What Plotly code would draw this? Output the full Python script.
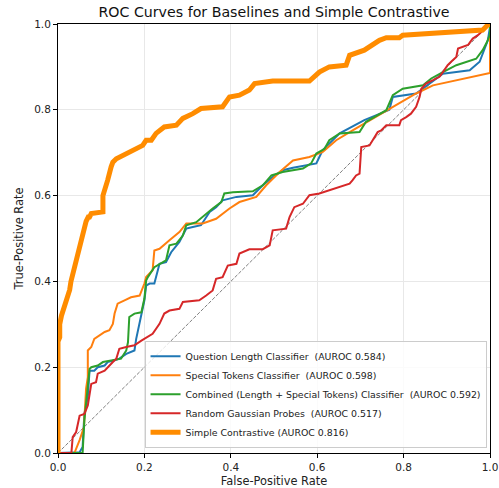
import plotly.graph_objects as go

# ---------------- data ----------------
sc_fpr = [0.0, 0.0, 0.0, 0.004, 0.004, 0.008, 0.015, 0.02, 0.027, 0.03, 0.035, 0.04, 0.045, 0.05, 0.055, 0.06, 0.065, 0.07, 0.073,
          0.077, 0.104, 0.104, 0.108, 0.115, 0.123, 0.127, 0.135, 0.15, 0.169, 0.184, 0.196, 0.204, 0.216, 0.227, 0.246,
          0.274, 0.289, 0.312, 0.331, 0.381, 0.397, 0.42, 0.443, 0.455, 0.497, 0.559, 0.582, 0.605, 0.628, 0.667, 0.675,
          0.709, 0.729, 0.744, 0.76, 0.79, 0.798, 0.86, 0.952, 0.983, 0.994, 1.0]
sc_tpr = [0.0, 0.13, 0.26, 0.27, 0.30, 0.32, 0.34, 0.36, 0.38, 0.40, 0.42, 0.45, 0.47, 0.49, 0.51, 0.53, 0.54, 0.55, 0.55,
          0.558, 0.562, 0.60, 0.617, 0.636, 0.667, 0.678, 0.686, 0.694, 0.702, 0.71, 0.717, 0.729, 0.729, 0.745, 0.76,
          0.764, 0.78, 0.791, 0.803, 0.807, 0.83, 0.834, 0.846, 0.861, 0.867, 0.867, 0.867, 0.888, 0.9, 0.904, 0.927,
          0.939, 0.951, 0.962, 0.968, 0.968, 0.974, 0.978, 0.982, 0.986, 0.997, 1.0]

st_fpr = [0.0, 0.038, 0.05, 0.06, 0.065, 0.069, 0.069, 0.077, 0.084, 0.096, 0.108, 0.119, 0.127, 0.131, 0.138, 0.154, 0.169,
          0.189, 0.2, 0.204, 0.219, 0.223, 0.235, 0.258, 0.281, 0.297, 0.335, 0.366, 0.397, 0.42, 0.459, 0.482, 0.513,
          0.544, 0.582, 0.613, 0.644, 0.682, 0.729, 0.775, 0.829, 0.868, 0.906, 0.995, 1.0, 1.0]
st_tpr = [0.0, 0.0, 0.03, 0.06, 0.15, 0.177, 0.239, 0.247, 0.266, 0.274, 0.282, 0.286, 0.301, 0.325, 0.348, 0.356, 0.363,
          0.367, 0.395, 0.41, 0.426, 0.472, 0.476, 0.496, 0.515, 0.535, 0.535, 0.546, 0.57, 0.585, 0.597, 0.624, 0.655,
          0.682, 0.69, 0.702, 0.729, 0.752, 0.779, 0.807, 0.838, 0.857, 0.865, 0.884, 0.886, 1.0]

ql_fpr = [0.0, 0.05, 0.057, 0.061, 0.069, 0.073, 0.084, 0.092, 0.108, 0.115, 0.131, 0.142, 0.158, 0.177, 0.181, 0.189, 0.196,
          0.2, 0.204, 0.212, 0.223, 0.235, 0.25, 0.262, 0.281, 0.297, 0.312, 0.331, 0.351, 0.366, 0.381, 0.413, 0.451,
          0.474, 0.497, 0.52, 0.544, 0.598, 0.605, 0.613, 0.652, 0.709, 0.767, 0.775, 0.829, 0.86, 0.891, 0.922, 0.953,
          0.976, 0.987, 0.995, 1.0, 1.0]
ql_tpr = [0.0, 0.002, 0.014, 0.091, 0.13, 0.192, 0.192, 0.2, 0.204, 0.212, 0.216, 0.22, 0.231, 0.239, 0.266, 0.301, 0.332,
          0.356, 0.39, 0.395, 0.395, 0.441, 0.445, 0.468, 0.492, 0.523, 0.527, 0.531, 0.562, 0.573, 0.589, 0.597, 0.601,
          0.624, 0.643, 0.659, 0.665, 0.675, 0.69, 0.706, 0.745, 0.776, 0.8, 0.83, 0.838, 0.861, 0.884, 0.888, 0.892,
          0.912, 0.939, 0.962, 0.993, 1.0]

cb_fpr = [0.0, 0.057, 0.061, 0.065, 0.073, 0.077, 0.092, 0.104, 0.127, 0.146, 0.158, 0.162, 0.165, 0.177, 0.193, 0.2, 0.204,
          0.208, 0.223, 0.235, 0.25, 0.258, 0.274, 0.289, 0.297, 0.32, 0.343, 0.358, 0.378, 0.385, 0.405, 0.451, 0.474,
          0.494, 0.52, 0.567, 0.586, 0.598, 0.617, 0.628, 0.652, 0.698, 0.713, 0.76, 0.775, 0.798, 0.845, 0.864, 0.891,
          0.922, 0.968, 0.983, 0.993, 1.0, 1.0]
cb_tpr = [0.0, 0.0, 0.076, 0.122, 0.196, 0.2, 0.204, 0.212, 0.216, 0.22, 0.239, 0.258, 0.317, 0.325, 0.328, 0.36, 0.402,
          0.41, 0.433, 0.441, 0.449, 0.484, 0.488, 0.507, 0.531, 0.538, 0.558, 0.57, 0.585, 0.605, 0.608, 0.61, 0.624,
          0.647, 0.655, 0.663, 0.675, 0.698, 0.709, 0.729, 0.745, 0.748, 0.772, 0.799, 0.834, 0.849, 0.857, 0.873, 0.888,
          0.904, 0.919, 0.939, 0.958, 0.976, 1.0]

rg_fpr = [0.0, 0.031, 0.034, 0.042, 0.05, 0.061, 0.069, 0.077, 0.088, 0.092, 0.108, 0.115, 0.127, 0.135, 0.142, 0.158, 0.177,
          0.193, 0.219, 0.235, 0.246, 0.258, 0.281, 0.289, 0.327, 0.343, 0.358, 0.366, 0.381, 0.393, 0.413, 0.42, 0.443,
          0.474, 0.49, 0.497, 0.528, 0.536, 0.547, 0.567, 0.582, 0.605, 0.628, 0.652, 0.675, 0.682, 0.69, 0.698, 0.702,
          0.721, 0.74, 0.748, 0.76, 0.79, 0.794, 0.806, 0.817, 0.829, 0.837, 0.841, 0.852, 0.868, 0.883, 0.891, 0.902,
          0.91, 0.922, 0.926, 0.949, 0.96, 0.972, 1.0]
rg_tpr = [0.0, 0.0, 0.037, 0.049, 0.087, 0.091, 0.111, 0.161, 0.165, 0.185, 0.192, 0.2, 0.212, 0.22, 0.243, 0.247, 0.251,
          0.262, 0.278, 0.301, 0.325, 0.332, 0.336, 0.352, 0.356, 0.367, 0.379, 0.406, 0.41, 0.437, 0.441, 0.465, 0.475,
          0.475, 0.484, 0.519, 0.523, 0.55, 0.573, 0.581, 0.601, 0.605, 0.612, 0.62, 0.628, 0.636, 0.647, 0.651, 0.713,
          0.717, 0.748, 0.752, 0.764, 0.764, 0.776, 0.783, 0.791, 0.807, 0.83, 0.849, 0.861, 0.869, 0.877, 0.888, 0.904,
          0.912, 0.923, 0.943, 0.951, 0.966, 0.974, 1.0]

names = [
    "Question Length Classifier\u00a0 (AUROC 0.584)",
    "Special Tokens Classifier\u00a0 (AUROC 0.598)",
    "Combined (Length + Special Tokens) Classifier\u00a0 (AUROC 0.592)",
    "Random Gaussian Probes\u00a0 (AUROC 0.517)",
    "Simple Contrastive (AUROC 0.816)",
]
diag = [0.0, 1.0]
tick_vals = [0, 0.2, 0.4, 0.6, 0.8, 1.0]
tick_text = ["0.0", "0.2", "0.4", "0.6", "0.8", "1.0"]

fig = go.Figure()
fig.add_trace(go.Scatter(x=diag, y=diag, mode="lines", showlegend=False,
                         line=dict(color="#808080", width=1, dash="3.7px,1.6px")))
series = [
    (ql_fpr, ql_tpr, "#1f77b4", 2),
    (st_fpr, st_tpr, "#ff7f0e", 2),
    (cb_fpr, cb_tpr, "#2ca02c", 2),
    (rg_fpr, rg_tpr, "#d62728", 2),
    (sc_fpr, sc_tpr, "#ff8c00", 5),
]
for (xs, ys, c, w), n in zip(series, names):
    fig.add_trace(go.Scatter(x=xs, y=ys, mode="lines", name=n,
                             line=dict(color=c, width=w)))

axis_common = dict(range=[0, 1], tickvals=tick_vals, ticktext=tick_text,
                   showline=True, mirror=True, linecolor="black", linewidth=1,
                   ticks="outside", ticklen=4, tickcolor="black", tickwidth=1,
                   showgrid=True, gridcolor="#e8e8e8", gridwidth=1,
                   zeroline=False, automargin=False,
                   tickfont=dict(size=10.5, color="#222"))
fig.update_xaxes(**axis_common,
                 title=dict(text="False-Positive Rate", font=dict(size=11.4, color="#222"), standoff=6))
fig.update_yaxes(**axis_common,
                 title=dict(text="True-Positive Rate", font=dict(size=11.4, color="#222"), standoff=8))

fig.update_layout(
    width=499, height=488,
    margin=dict(l=58, r=9, t=24, b=35, autoexpand=False),
    paper_bgcolor="white", plot_bgcolor="white",
    font=dict(family="DejaVu Sans", color="#222"),
    title=dict(text="ROC Curves for Baselines and Simple Contrastive", x=0.5, xref="paper",
               xanchor="center", y=0.976, yref="container", yanchor="middle",
               font=dict(size=14.2, color="#111")),
    legend=dict(x=0.992, y=0.012, xanchor="right", yanchor="bottom",
                bgcolor="rgba(255,255,255,0.8)", bordercolor="#cccccc", borderwidth=1,
                font=dict(size=9.4, color="#222"), itemwidth=30, tracegroupgap=0),
    showlegend=True,
)
fig.write_html("out.html", config={"displayModeBar": False},
               post_script="document.body.style.margin='0';document.body.style.overflow='hidden';")
